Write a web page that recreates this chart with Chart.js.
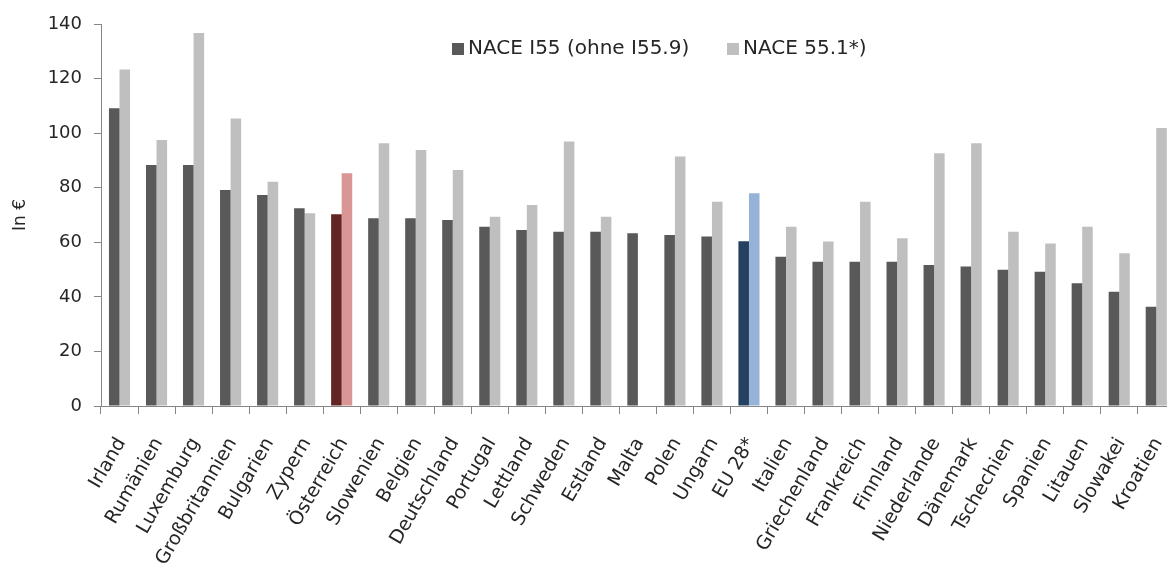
<!DOCTYPE html>
<html lang="de">
<head>
<meta charset="utf-8">
<title>Umsatz je Übernachtung</title>
<script src="https://cdn.jsdelivr.net/npm/chart.js@4.4.1/dist/chart.umd.min.js"></script>
<style>
  html, body { margin: 0; padding: 0; background: #fff; overflow: hidden; }
  #wrap { position: relative; width: 1196px; height: 571px; }
</style>
</head>
<body>
<div id="wrap"><canvas id="chart"></canvas></div>
<script>
// Länder, sortiert nach NACE I55
const countries = [
  'Irland', 'Rumänien', 'Luxemburg', 'Großbritannien', 'Bulgarien', 'Zypern',
  'Österreich', 'Slowenien', 'Belgien', 'Deutschland', 'Portugal', 'Lettland',
  'Schweden', 'Estland', 'Malta', 'Polen', 'Ungarn', 'EU 28*', 'Italien',
  'Griechenland', 'Frankreich', 'Finnland', 'Niederlande', 'Dänemark',
  'Tschechien', 'Spanien', 'Litauen', 'Slowakei', 'Kroatien'
];

// NACE I55 (ohne I55.9), in €
const naceI55 = [
  109.1, 88.3, 88.3, 79.2, 77.3, 72.5, 70.3, 68.8, 68.8, 68.2, 65.7, 64.5,
  63.9, 63.9, 63.3, 62.7, 62.1, 60.4, 54.7, 52.9, 52.9, 52.9, 51.7, 51.1,
  49.9, 49.2, 45.0, 41.9, 36.4
];

// NACE 55.1*, in € (Malta ohne Wert)
const nace551 = [
  123.3, 97.5, 136.7, 105.4, 82.2, 70.6, 85.3, 96.3, 93.8, 86.5, 69.4, 73.7,
  96.9, 69.4, null, 91.4, 74.9, 78.0, 65.7, 60.3, 74.9, 61.5, 92.6, 96.3,
  63.9, 59.6, 65.7, 56.0, 101.9
];

const yTicks = [0, 20, 40, 60, 80, 100, 120, 140];

const seriesLabels = ['NACE I55 (ohne I55.9)', 'NACE 55.1*)'];

// Grundfarben und hervorgehobene Länder
const baseColors = ['#595959', '#bfbfbf'];
const highlight = {
  'Österreich': ['#632523', '#d99694'],
  'EU 28*': ['#254061', '#95b3d7']
};

const colorsFor = idx => countries.map(c => (highlight[c] ? highlight[c][idx] : baseColors[idx]));

const FONT = 'DejaVu Sans';
const TEXT = '#262626';
const AXIS = '#868686';

// Legende innerhalb der Zeichenfläche
const floatingLegend = {
  id: 'floatingLegend',
  afterDraw(chart, args, opts) {
    const ctx = chart.ctx;
    ctx.save();
    ctx.font = opts.font;
    ctx.textBaseline = 'middle';
    chart.data.datasets.forEach((ds, i) => {
      const x = opts.x[i];
      ctx.fillStyle = baseColors[i];
      ctx.fillRect(x, opts.y - 6, 12, 12);
      ctx.fillStyle = opts.color;
      ctx.fillText(ds.label, x + 16, opts.y);
    });
    ctx.restore();
  }
};

new Chart(document.getElementById('chart'), {
  type: 'bar',
  data: {
    labels: countries,
    datasets: [
      { label: seriesLabels[0], data: naceI55, backgroundColor: colorsFor(0) },
      { label: seriesLabels[1], data: nace551, backgroundColor: colorsFor(1) }
    ]
  },
  options: {
    responsive: true,
    maintainAspectRatio: false,
    animation: false,
    layout: { padding: { top: 24, left: 0, right: 0, bottom: 0 } },
    datasets: { bar: { categoryPercentage: 0.57, barPercentage: 1.0 } },
    plugins: {
      legend: { display: false },
      tooltip: { enabled: false },
      floatingLegend: { x: [452, 727], y: 49, font: `20px "${FONT}"`, color: TEXT }
    },
    scales: {
      x: {
        grid: { display: true, drawOnChartArea: false, drawTicks: true, tickLength: 8, color: AXIS, offset: true },
        border: { display: true, color: AXIS, width: 1 },
        ticks: {
          autoSkip: false, minRotation: 60, maxRotation: 60,
          padding: 20, labelOffset: 2,
          font: { family: FONT, size: 19 }, color: TEXT
        },
        afterFit: s => { s.height = 165; }
      },
      y: {
        min: 0, max: 140,
        afterBuildTicks: s => { s.ticks = yTicks.map(v => ({ value: v })); },
        grid: { display: true, drawOnChartArea: false, drawTicks: true, tickLength: 7, color: AXIS },
        border: { display: true, color: AXIS, width: 1 },
        ticks: { padding: 12, font: { family: FONT, size: 18 }, color: TEXT },
        title: { display: true, text: 'In €', font: { family: FONT, size: 17 }, color: TEXT, padding: { top: 10, bottom: 0 } },
        afterFit: s => { s.width = 101; }
      }
    }
  },
  plugins: [floatingLegend]
});
</script>
</body>
</html>
